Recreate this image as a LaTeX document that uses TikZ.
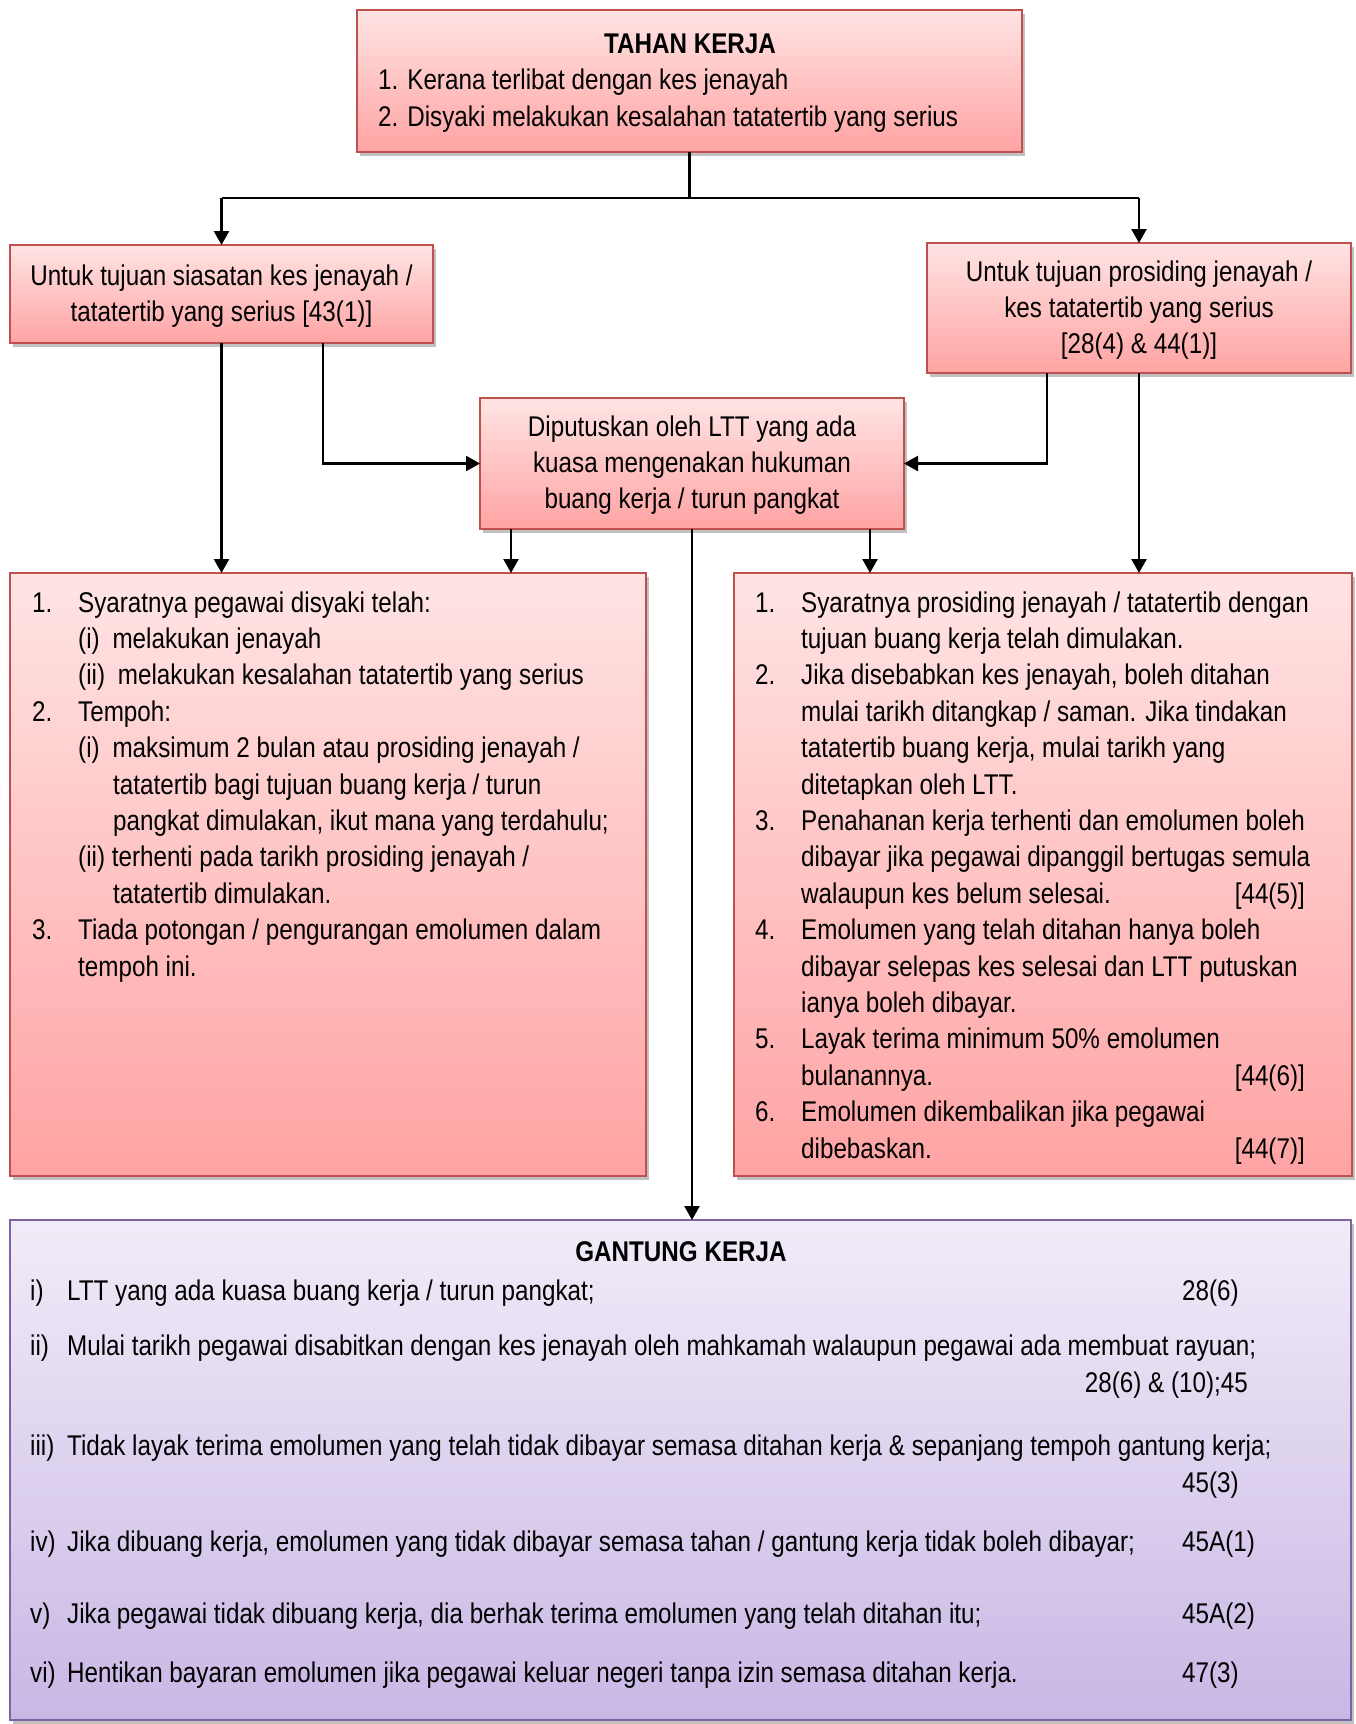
\documentclass[tikz,border=0pt]{standalone}
\usepackage{fontspec}
\setmainfont{Liberation Sans}[FakeStretch=0.85]
\usetikzlibrary{arrows.meta,shadows}
\definecolor{redline}{HTML}{C0504D}
\definecolor{pinktop}{HTML}{FFE4E4}
\definecolor{pinkbot}{HTML}{FFA3A3}
\definecolor{purpline}{HTML}{7F63A1}
\definecolor{purptop}{HTML}{F1ECF8}
\definecolor{purpbot}{HTML}{C9B7E5}
\newcommand\fs{\fontsize{28.5}{36.4}\selectfont}
\tikzset{
  shad/.style={drop shadow={opacity=0.35, shadow xshift=3pt, shadow yshift=-4pt, fill=black!70}},
  redbox/.style={shad, draw=redline, line width=1.5pt, top color=pinktop, bottom color=pinkbot, rectangle, outer sep=0pt, inner sep=0pt},
  purpbox/.style={shad, draw=purpline, line width=1.5pt, top color=purptop, bottom color=purpbot, rectangle, outer sep=0pt, inner sep=0pt},
  conn/.style={line width=2.4pt, -{Triangle[length=14pt,width=15pt]}},
  plain/.style={line width=2.4pt},
  txt/.style={inner sep=0pt, font=\fs},
  lt/.style={txt, anchor=base west},
  ct/.style={txt, anchor=base},
  rt/.style={txt, anchor=base east}
}
\newcommand\nm[1]{\makebox[46pt][l]{#1}}
\newcommand\gl[1]{\makebox[37pt][l]{#1}}
\begin{document}
\begin{tikzpicture}[x=1pt,y=-1pt]
\useasboundingbox (0,0) rectangle (1355,1724);
\fill[white] (0,0) rectangle (1355,1724);

% boxes
\node[redbox, minimum width=665pt, minimum height=142pt, anchor=north west] (top) at (357,10) {};
\node[redbox, minimum width=423pt, minimum height=98pt, anchor=north west] (lb1) at (10,245) {};
\node[redbox, minimum width=424pt, minimum height=130pt, anchor=north west] (rb1) at (927,243) {};
\node[redbox, minimum width=424pt, minimum height=131pt, anchor=north west] (mid) at (480,398) {};
\node[redbox, minimum width=636pt, minimum height=603pt, anchor=north west] (lbig) at (10,573) {};
\node[redbox, minimum width=618pt, minimum height=603pt, anchor=north west] (rbig) at (734,573) {};
\node[purpbox, minimum width=1341pt, minimum height=500pt, anchor=north west] (gk) at (10,1220) {};

% top box text
\node[ct, font=\fs\bfseries] (t0) at (690,53) {TAHAN KERJA};
\node[lt] (t1) at (378,89) {1. Kerana terlibat dengan kes jenayah};
\node[lt] (t2) at (378,126) {2. Disyaki melakukan kesalahan tatatertib yang serius};

% left first box
\node[ct] (l1a) at (221.5,285) {Untuk tujuan siasatan kes jenayah /};
\node[ct] (l1b) at (221.5,321) {tatatertib yang serius [43(1)]};

% right first box
\node[ct] (r1a) at (1139,281) {Untuk tujuan prosiding jenayah /};
\node[ct] (r1b) at (1139,317) {kes tatatertib yang serius};
\node[ct] (r1c) at (1139,353) {[28(4) \& 44(1)]};

% middle box
\node[ct] (m1) at (692,436) {Diputuskan oleh LTT yang ada};
\node[ct] (m2) at (692,472) {kuasa mengenakan hukuman};
\node[ct] (m3) at (692,508) {buang kerja / turun pangkat};

% left big box
\node[lt] (a1) at (32,612) {\nm{1.}Syaratnya pegawai disyaki telah:};
\node[lt] (a2) at (78,648.4) {(i)\hspace{0.45em}melakukan jenayah};
\node[lt] (a3) at (78,684.8) {(ii)\hspace{0.45em}melakukan kesalahan tatatertib yang serius};
\node[lt] (a4) at (32,721.2) {\nm{2.}Tempoh:};
\node[lt] (a5) at (78,757.6) {(i)\hspace{0.45em}maksimum 2 bulan atau prosiding jenayah /};
\node[lt] (a6) at (113,794) {tatatertib bagi tujuan buang kerja / turun};
\node[lt] (a7) at (113,830.4) {pangkat dimulakan, ikut mana yang terdahulu;};
\node[lt] (a8) at (78,866.8) {(ii) terhenti pada tarikh prosiding jenayah /};
\node[lt] (a9) at (113,903.2) {tatatertib dimulakan.};
\node[lt] (a10) at (32,939.6) {\nm{3.}Tiada potongan / pengurangan emolumen dalam};
\node[lt] (a11) at (78,976) {tempoh ini.};

% right big box
\node[lt] (b1) at (755,612) {\nm{1.}Syaratnya prosiding jenayah / tatatertib dengan};
\node[lt] (b2) at (801,648.4) {tujuan buang kerja telah dimulakan.};
\node[lt] (b3) at (755,684.8) {\nm{2.}Jika disebabkan kes jenayah, boleh ditahan};
\node[lt] (b4) at (801,721.2) {mulai tarikh ditangkap / saman. Jika tindakan};
\node[lt] (b5) at (801,757.6) {tatatertib buang kerja, mulai tarikh yang};
\node[lt] (b6) at (801,794) {ditetapkan oleh LTT.};
\node[lt] (b7) at (755,830.4) {\nm{3.}Penahanan kerja terhenti dan emolumen boleh};
\node[lt] (b8) at (801,866.8) {dibayar jika pegawai dipanggil bertugas semula};
\node[lt] (b9) at (801,903.2) {walaupun kes belum selesai.};
\node[rt] (b9r) at (1305,903.2) {[44(5)]};
\node[lt] (b10) at (755,939.6) {\nm{4.}Emolumen yang telah ditahan hanya boleh};
\node[lt] (b11) at (801,976) {dibayar selepas kes selesai dan LTT putuskan};
\node[lt] (b12) at (801,1012.4) {ianya boleh dibayar.};
\node[lt] (b13) at (755,1048.8) {\nm{5.}Layak terima minimum 50\% emolumen};
\node[lt] (b14) at (801,1085.2) {bulanannya.};
\node[rt] (b14r) at (1305,1085.2) {[44(6)]};
\node[lt] (b15) at (755,1121.6) {\nm{6.}Emolumen dikembalikan jika pegawai};
\node[lt] (b16) at (801,1158) {dibebaskan.};
\node[rt] (b16r) at (1305,1158) {[44(7)]};

% gantung kerja box
\node[ct, font=\fs\bfseries] (g0) at (681,1261) {GANTUNG KERJA};
\node[lt] (g1) at (30,1300) {\gl{i)}LTT yang ada kuasa buang kerja / turun pangkat;};
\node[lt] (g1r) at (1182,1300) {28(6)};
\node[lt] (g2) at (30,1355) {\gl{ii)}Mulai tarikh pegawai disabitkan dengan kes jenayah oleh mahkamah walaupun pegawai ada membuat rayuan;};
\node[rt] (g2r) at (1248,1392) {28(6) \& (10);45};
\node[lt] (g3) at (30,1455) {\gl{iii)}Tidak layak terima emolumen yang telah tidak dibayar semasa ditahan kerja \& sepanjang tempoh gantung kerja;};
\node[lt] (g3r) at (1182,1492) {45(3)};
\node[lt] (g4) at (30,1551) {\gl{iv)}Jika dibuang kerja, emolumen yang tidak dibayar semasa tahan / gantung kerja tidak boleh dibayar;};
\node[lt] (g4r) at (1182,1551) {45A(1)};
\node[lt] (g5) at (30,1623) {\gl{v)}Jika pegawai tidak dibuang kerja, dia berhak terima emolumen yang telah ditahan itu;};
\node[lt] (g5r) at (1182,1623) {45A(2)};
\node[lt] (g6) at (30,1682) {\gl{vi)}Hentikan bayaran emolumen jika pegawai keluar negeri tanpa izin semasa ditahan kerja.};
\node[lt] (g6r) at (1182,1682) {47(3)};

% connectors
\draw[plain] (top.south) -- (top.south |- 0,198) coordinate (spl);
\draw[plain] (lb1.north |- spl) -- (rb1.north |- spl);
\draw[conn] (lb1.north |- spl) -- (lb1.north);
\draw[conn] (rb1.north |- spl) -- (rb1.north);
\draw[conn] ([xshift=101.5pt]lb1.south) |- (mid.west);
\draw[conn] ([xshift=-92pt]rb1.south) |- (mid.east);
\draw[conn] (lb1.south) -- (lb1.south |- lbig.north);
\draw[conn] ([xshift=-181pt]mid.south) -- ([xshift=-181pt]mid.south |- lbig.north);
\draw[conn] ([xshift=178pt]mid.south) -- ([xshift=178pt]mid.south |- rbig.north);
\draw[conn] (rb1.south) -- (rb1.south |- rbig.north);
\draw[conn] (mid.south) -- (mid.south |- gk.north);
\end{tikzpicture}
\end{document}
